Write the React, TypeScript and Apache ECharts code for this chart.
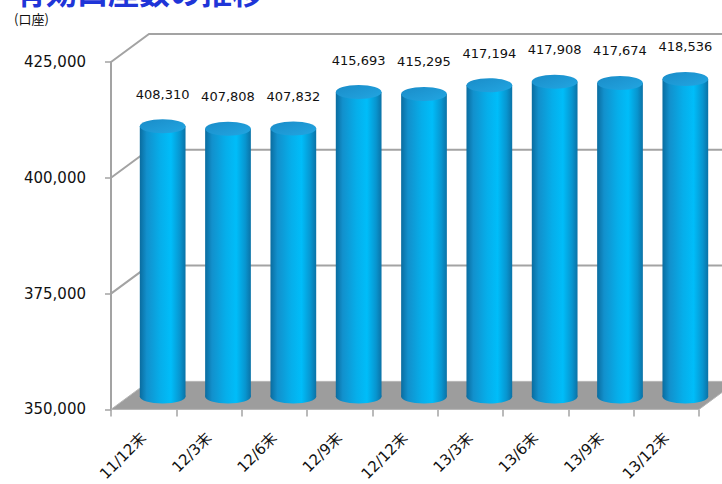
import React, { useEffect, useRef } from "react";
import * as echarts from "echarts";

const categories = ["11/12末", "12/3末", "12/6末", "12/9末", "12/12末", "13/3末", "13/6末", "13/9末", "13/12末"];
const accountValues = [408310, 407808, 407832, 415693, 415295, 417194, 417908, 417674, 418536];
const yTickValues = [350000, 375000, 400000, 425000];
const Y_MIN = 350000;
const Y_MAX = 425000;
const Y_INTERVAL = 25000;
const titleText = "有効口座数の推移";
const unitText = "(口座)";

const DX = 38;
const DY = -28;
const GRID_COLOR = "#a3a3a3";

const fmt = (v: number) => Number(v).toLocaleString("en-US");

export default function App() {
  const ref = useRef<HTMLDivElement>(null);
  useEffect(() => {
    document.body.style.margin = "0";
    const chart = echarts.init(ref.current!, null, { renderer: "svg" });
    const bodyGrad = () =>
      new echarts.graphic.LinearGradient(0, 0, 1, 0, [
        { offset: 0, color: "#0a6c9f" },
        { offset: 0.15, color: "#1290cc" },
        { offset: 0.45, color: "#06aeea" },
        { offset: 0.68, color: "#00bdf9" },
        { offset: 0.88, color: "#0895cf" },
        { offset: 1, color: "#0b72a6" },
      ]);
    const topGrad = () =>
      new echarts.graphic.LinearGradient(0, 0, 1, 1, [
        { offset: 0, color: "#1a8cc8" },
        { offset: 1, color: "#22a6e2" },
      ]);

    const option: any = {
      animation: false,
      tooltip: { show: false },
      grid: { left: 111, top: 62, width: 588, height: 351, containLabel: false },
      xAxis: {
        type: "category",
        data: categories,
        axisLine: { show: false },
        axisTick: { show: true, length: 7, lineStyle: { color: GRID_COLOR, width: 1.5 } },
        axisLabel: {
          rotate: 45,
          margin: 26,
          fontSize: 15,
          color: "#111",
          fontFamily: "DejaVu Sans, 'Noto Sans CJK JP'",
        },
        splitLine: { show: false },
      },
      yAxis: {
        type: "value",
        min: Y_MIN,
        max: Y_MAX,
        interval: Y_INTERVAL,
        axisLine: { show: true, lineStyle: { color: GRID_COLOR, width: 2 } },
        axisTick: { show: true, length: 6, lineStyle: { color: GRID_COLOR, width: 1.5 } },
        axisLabel: {
          margin: 25,
          fontSize: 15,
          color: "#111",
          fontFamily: "DejaVu Sans",
          formatter: (v: number) => fmt(v),
        },
        splitLine: { show: false },
      },
      graphic: [
        {
          type: "text",
          left: 15,
          top: -25,
          style: {
            text: titleText,
            fontSize: 31,
            fontWeight: "bold",
            fill: "#1f35d8",
            fontFamily: "'Noto Sans CJK JP'",
          },
        },
        {
          type: "text",
          left: 14,
          top: 12,
          style: {
            text: unitText,
            fontSize: 13,
            fill: "#111",
            fontFamily: "'Noto Sans CJK JP'",
          },
        },
      ],
      series: [
        {
          type: "custom",
          name: "frame",
          z: 1,
          clip: false,
          silent: true,
          data: yTickValues.map((v) => [0, v]),
          encode: { x: 0, y: 1 },
          renderItem: (params: any, api: any) => {
            const cs = params.coordSys;
            const v = api.value(1);
            const y = api.coord([0, v])[1];
            const x0 = cs.x;
            const x1 = cs.x + cs.width;
            if (v === Y_MIN) {
              return {
                type: "polygon",
                shape: {
                  points: [
                    [x0, y],
                    [x1, y],
                    [x1 + DX, y + DY],
                    [x0 + DX, y + DY],
                  ],
                },
                style: { fill: "#9d9d9d", stroke: "#b5b5b5", lineWidth: 1 },
              };
            }
            return {
              type: "polyline",
              shape: {
                points: [
                  [x0, y],
                  [x0 + DX, y + DY],
                  [x1 + DX, y + DY],
                ],
              },
              style: { stroke: GRID_COLOR, lineWidth: 2, fill: "none" },
            };
          },
        },
        {
          type: "custom",
          name: "口座数",
          z: 2,
          clip: false,
          data: accountValues.map((v, i) => [i, v]),
          encode: { x: 0, y: 1 },
          renderItem: (params: any, api: any) => {
            const idx = api.value(0);
            const v = api.value(1);
            const top = api.coord([idx, v]);
            const bot = api.coord([idx, Y_MIN]);
            const band = api.size([1, 0])[0];
            const rx = band * 0.35;
            const ry = 7;
            const cx = top[0] + DX / 2;
            const ty = top[1] + DY / 2 + 1;
            const by = bot[1] + DY / 2 + 1;
            return {
              type: "group",
              children: [
                { type: "ellipse", shape: { cx, cy: by, rx, ry }, style: { fill: bodyGrad() } },
                {
                  type: "rect",
                  shape: { x: cx - rx, y: ty, width: 2 * rx, height: by - ty },
                  style: { fill: bodyGrad() },
                },
                { type: "ellipse", shape: { cx, cy: ty, rx, ry }, style: { fill: topGrad() } },
                {
                  type: "text",
                  style: {
                    text: fmt(v),
                    x: cx,
                    y: ty - 32,
                    align: "center",
                    verticalAlign: "middle",
                    fontSize: 13,
                    fill: "#111",
                    fontFamily: "DejaVu Sans",
                  },
                },
              ],
            };
          },
        },
      ],
    };
    chart.setOption(option);
    return () => chart.dispose();
  }, []);
  return <div ref={ref} style={{ width: 722, height: 484, background: "#fff" }} />;
}
